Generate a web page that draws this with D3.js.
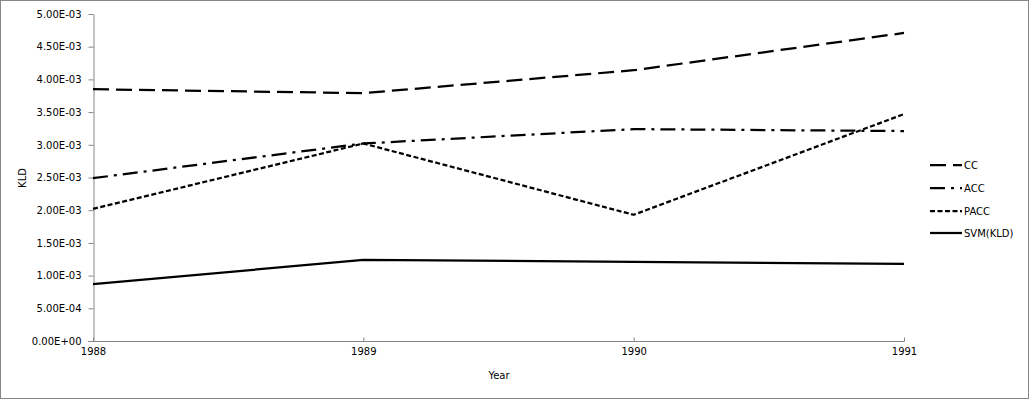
<!DOCTYPE html>
<html>
<head>
<meta charset="utf-8">
<script src="https://cdn.jsdelivr.net/npm/d3@7"></script>
<style>
  html, body { margin: 0; padding: 0; background: #fff; }
  svg { display: block; }
  text { font-family: "DejaVu Sans", Verdana, sans-serif; fill: #000; }
</style>
</head>
<body>
<div id="chart"></div>
<script>
// ---- Data ----
const years = [1988, 1989, 1990, 1991];
const seriesNames = ["CC", "ACC", "PACC", "SVM(KLD)"];
const ccValues   = [3.85e-3, 3.79e-3, 4.14e-3, 4.71e-3];
const accValues  = [2.49e-3, 3.02e-3, 3.24e-3, 3.21e-3];
const paccValues = [2.02e-3, 3.02e-3, 1.93e-3, 3.47e-3];
const svmValues  = [0.87e-3, 1.24e-3, 1.21e-3, 1.18e-3];
const yTicks = [0, 5e-4, 1e-3, 1.5e-3, 2e-3, 2.5e-3, 3e-3, 3.5e-3, 4e-3, 4.5e-3, 5e-3];
const xTitle = "Year";
const yTitle = "KLD";

const W = 1029, H = 399;
const margin = { left: 93, right: 125, top: 14, bottom: 58 };

const svg = d3.select("#chart").append("svg").attr("width", W).attr("height", H);

// outer border
svg.append("rect").attr("x", 0.5).attr("y", 0.5).attr("width", W - 1).attr("height", H - 1)
  .attr("fill", "#fff").attr("stroke", "#868686").attr("stroke-width", 1);

const x = d3.scalePoint().domain(years).range([margin.left, 904]);
const y = d3.scaleLinear().domain([0, 5e-3]).range([341, 14]);

const fmt = v => {
  if (v === 0) return "0.00E+00";
  const e = Math.floor(Math.log10(v) + 1e-9);
  const m = v / Math.pow(10, e);
  const sign = e < 0 ? "-" : "+";
  return m.toFixed(2) + "E" + sign + String(Math.abs(e)).padStart(2, "0");
};

// Y axis
const yAxis = svg.append("g").attr("transform", `translate(${margin.left + 0.5},0)`)
  .call(d3.axisLeft(y).tickValues(yTicks).tickFormat(fmt).tickSize(5).tickSizeOuter(0));
yAxis.select(".domain").attr("stroke", "#868686");
yAxis.selectAll(".tick line").attr("stroke", "#868686");
yAxis.selectAll(".tick text").attr("font-size", 10).attr("x", -12).attr("fill", "#000");

// X axis
const xAxis = svg.append("g").attr("transform", `translate(0,${341.5})`)
  .call(d3.axisBottom(x).tickSize(0).tickSizeOuter(0));
xAxis.select(".domain").attr("stroke", "#868686").attr("d", `M${margin.left - 5},0H${904.5}`);
xAxis.selectAll(".tick line").attr("y2", -4).attr("stroke", "#868686");
xAxis.selectAll(".tick text").attr("font-size", 10).attr("dy", "0.71em").attr("y", 6).attr("fill", "#000");

// Axis titles
svg.append("text").attr("x", 499).attr("y", 379).attr("text-anchor", "middle")
  .attr("font-size", 10).text(xTitle);
svg.append("text").attr("transform", "translate(26,178) rotate(-90)").attr("text-anchor", "middle")
  .attr("font-size", 10).text(yTitle);

// Lines
const styles = [
  { values: ccValues,   dash: "16,7" },
  { values: accValues,  dash: "15,6,3,6" },
  { values: paccValues, dash: "5,2.5" },
  { values: svmValues,  dash: null }
];
const line = d3.line().x((d, i) => x(years[i])).y(d => y(d));
styles.forEach(s => {
  svg.append("path").datum(s.values).attr("d", line)
    .attr("fill", "none").attr("stroke", "#000").attr("stroke-width", 2.25)
    .attr("stroke-dasharray", s.dash).attr("stroke-linejoin", "round");
});

// Legend
const legendY = [165, 188, 211, 233];
seriesNames.forEach((name, i) => {
  const g = svg.append("g");
  g.append("line").attr("x1", 930).attr("x2", 962).attr("y1", legendY[i]).attr("y2", legendY[i])
    .attr("stroke", "#000").attr("stroke-width", 2.25).attr("stroke-dasharray", styles[i].dash);
  g.append("text").attr("x", 964).attr("y", legendY[i]).attr("dy", "0.35em")
    .attr("font-size", 10).text(name);
});
</script>
</body>
</html>
